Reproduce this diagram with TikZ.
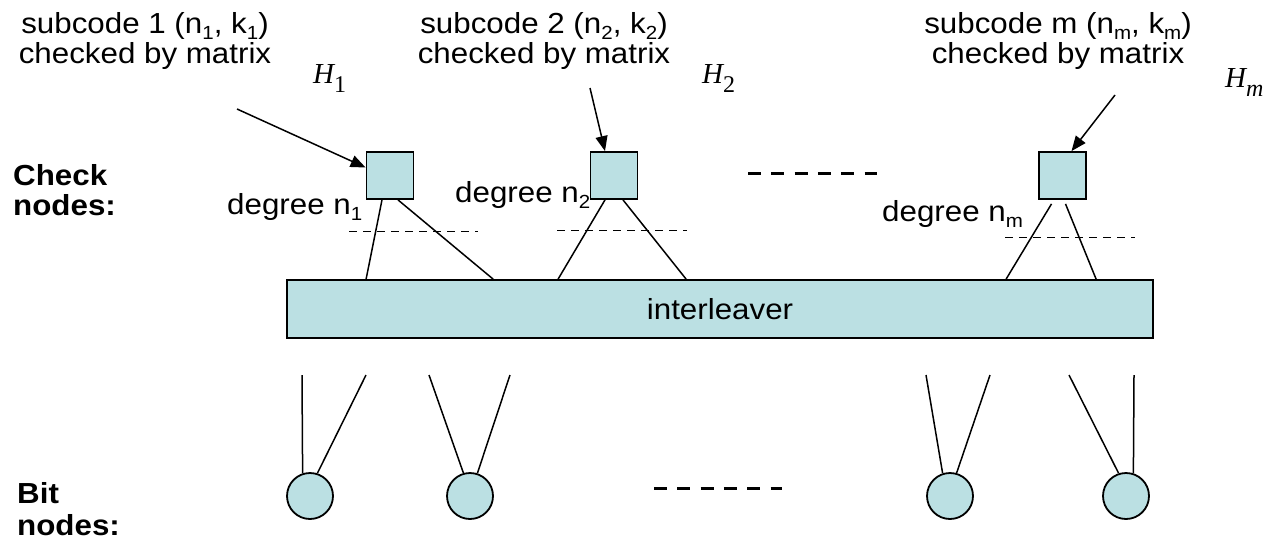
\documentclass[tikz,border=0pt]{standalone}
\usepackage{fontspec}
\setmainfont{Liberation Sans}[FakeStretch=1.08]
\newfontfamily\tnr{Liberation Serif}
\usetikzlibrary{arrows.meta}
\definecolor{nodefill}{RGB}{187,224,227}

% lowered subscript in running text
\newcommand\lowsub[1]{\raisebox{-6pt}{\fontsize{19}{19}\selectfont #1}}
% parity-check matrix label H with its index
\newcommand\hmat[1]{{\tnr\itshape H}\raisebox{-9pt}{\tnr\fontsize{24}{24}\selectfont #1}}

\begin{document}
\begin{tikzpicture}[x=1pt,y=-1pt,
  txt/.style={inner sep=0pt, font=\fontsize{29}{30}\selectfont},
  caption/.style={inner sep=0pt, align=center, font=\fontsize{29}{30}\selectfont},
  lbl/.style={inner sep=0pt, align=left, font=\fontsize{29}{30}\selectfont\bfseries},
  hlab/.style={inner sep=0pt, font=\fontsize{29}{30}\selectfont},
  checkbox/.style={draw, line width=1.8pt, fill=nodefill, minimum size=47pt, inner sep=0pt},
  bitnode/.style={circle, draw, line width=1.8pt, fill=nodefill, minimum size=46pt, inner sep=0pt},
  ilbox/.style={draw, line width=1.8pt, fill=nodefill, minimum width=866pt, minimum height=58pt, inner sep=0pt, font=\fontsize{29}{30}\selectfont},
  edge/.style={line width=1.5pt},
  pointer/.style={line width=1.5pt, -{Triangle[length=15pt,width=12pt]}},
  degline/.style={line width=1pt, dash pattern=on 8pt off 6pt},
  ellipsis/.style={line width=3pt, dash pattern=on 13pt off 10.3pt},
]
\useasboundingbox (0,0) rectangle (1271,546);

% row labels (anchored at the baseline of their last line)
\node[lbl, anchor=base west] (chk) at (13,215) {Check\\nodes:};
\node[lbl, anchor=base west] (bit) at (17,535) {Bit\\[2pt]nodes:};

% subcode captions
\node[caption, anchor=base] (s1) at (145,63) {subcode 1 (n\lowsub{1}, k\lowsub{1})\\checked by matrix};
\node[caption, anchor=base] (s2) at (544,63) {subcode 2 (n\lowsub{2}, k\lowsub{2})\\checked by matrix};
\node[caption, anchor=base] (sm) at (1058,63) {subcode m (n\lowsub{m}, k\lowsub{m})\\checked by matrix};

% matrix names
\node[hlab, anchor=base west] (h1) at (313,83) {\hmat{1}};
\node[hlab, anchor=base west] (h2) at (702,83) {\hmat{2}};
\node[hlab, anchor=base west] (hm) at (1225,87) {\hmat{\itshape m}};

% check nodes
\node[checkbox] (c1) at (390,175.5) {};
\node[checkbox] (c2) at (614,175.5) {};
\node[checkbox] (cm) at (1062.5,175.5) {};

% degree labels
\node[txt, anchor=base west] (deg1) at (227,214) {degree n\lowsub{1}};
\node[txt, anchor=base west] (deg2) at (455,202) {degree n\lowsub{2}};
\node[txt, anchor=base west] (degm) at (882,221) {degree n\lowsub{m}};

% interleaver
\node[ilbox] (il) at (720,309) {interleaver};

% bit nodes
\node[bitnode] (b1) at (310,496) {};
\node[bitnode] (b2) at (470,496) {};
\node[bitnode] (b3) at (950,496) {};
\node[bitnode] (b4) at (1126,496) {};

% pointers from the captions
\coordinate (a1) at (237,109);
\coordinate (a2) at (590,88);
\coordinate (am) at (1115,95);
\draw[pointer] (a1) -- ([yshift=8pt]c1.west);
\draw[pointer] (a2) -- ([xshift=-9pt]c2.north);
\draw[pointer] (am) -- ([xshift=9pt]cm.north);

% check node edges into the interleaver
\draw[edge] ([xshift=-8pt]c1.south) -- ([xshift=80pt]il.north west);
\draw[edge] ([xshift=8pt]c1.south) -- ([xshift=207pt]il.north west);
\draw[edge] ([xshift=-9pt]c2.south) -- ([xshift=272pt]il.north west);
\draw[edge] ([xshift=9pt]c2.south) -- ([xshift=400pt]il.north west);
\draw[edge] ([xshift=-11pt,yshift=-4pt]cm.south) -- ([xshift=720pt]il.north west);
\draw[edge] ([xshift=3pt,yshift=-4pt]cm.south) -- ([xshift=810pt]il.north west);

% degree cuts
\draw[degline] (349,231) -- (478,231);
\draw[degline] (557,230) -- (687,230);
\draw[degline] (1005,237) -- (1135,237);

% bit node edges leaving the interleaver
\coordinate (e1) at (302,375);
\coordinate (e2) at (366,375);
\coordinate (e3) at (429,375);
\coordinate (e4) at (510,375);
\coordinate (e5) at (926,375);
\coordinate (e6) at (990,375);
\coordinate (e7) at (1069,375);
\coordinate (e8) at (1134,375);
\draw[edge] (e1) -- (b1.108);
\draw[edge] (e2) -- (b1.72);
\draw[edge] (e3) -- (b2.106);
\draw[edge] (e4) -- (b2.72);
\draw[edge] (e5) -- (b3.108);
\draw[edge] (e6) -- (b3.74);
\draw[edge] (e7) -- (b4.108);
\draw[edge] (e8) -- (b4.72);

% ellipses between node groups
\draw[ellipsis] (748,173) -- (877,173);
\draw[ellipsis] (654,488) -- (782,488);
\end{tikzpicture}
\end{document}
